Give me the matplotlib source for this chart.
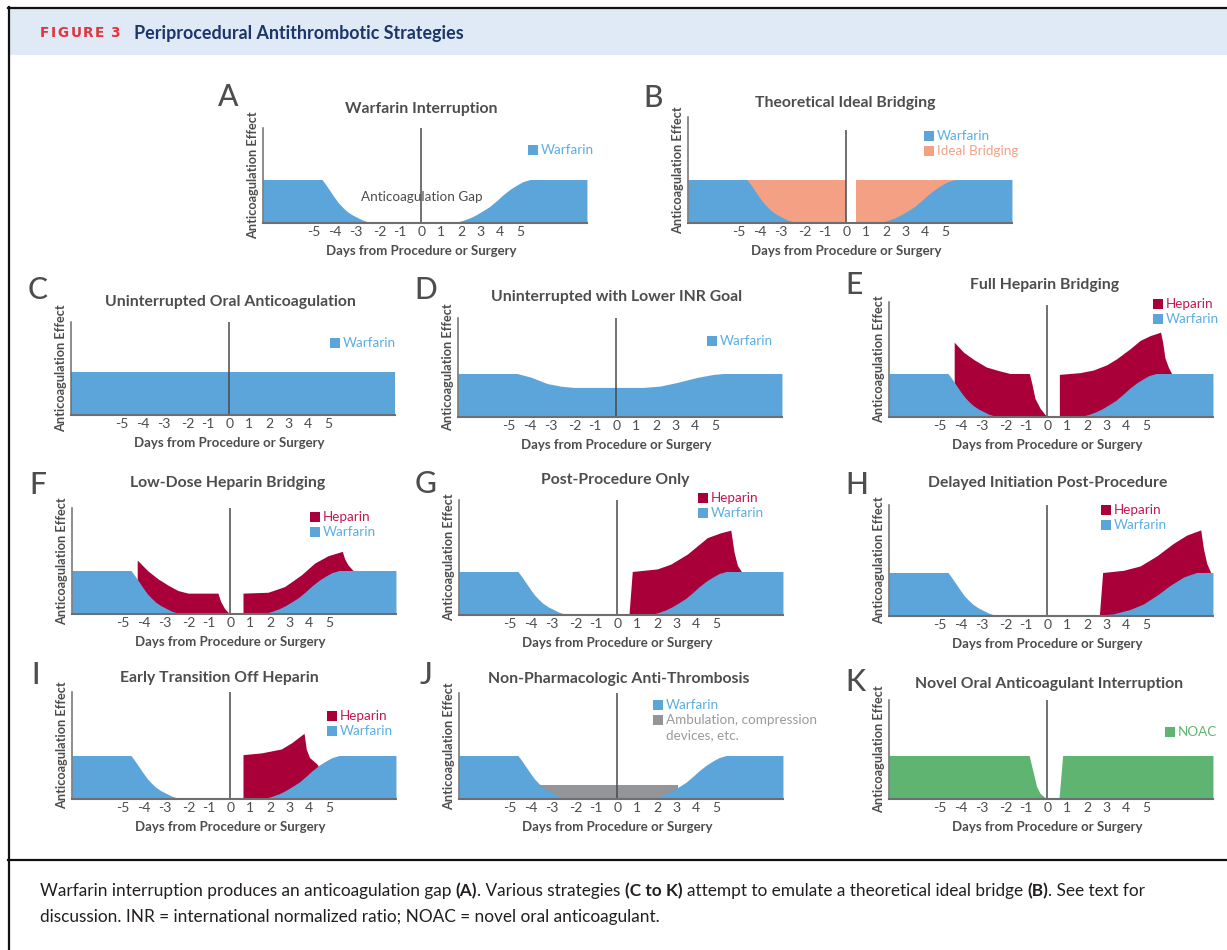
import matplotlib
matplotlib.use("Agg")
import matplotlib.pyplot as plt
from matplotlib.patches import Rectangle
from matplotlib.lines import Line2D

plt.rcParams['font.family'] = ['Lato', 'DejaVu Sans']

# ---- data (days from procedure, anticoagulation effect; 1 = therapeutic level) ----
tick_days = [-5.2, -4.2, -3.15, -2.0, -1.05, 0, 0.97, 1.93, 2.85, 3.8, 4.8]
tick_labels = ['-5', '-4', '-3', '-2', '-1', '0', '1', '2', '3', '4', '5']

warf_days = [-7.65, -4.8, -4.6, -4.4, -4.2, -4.0, -3.8, -3.6, -3.35, -3.1, -2.85, -2.6, -2.3,
             1.35, 1.7, 2.0, 2.35, 2.65, 3.0, 3.3, 3.65, 3.95, 4.3, 4.6, 4.9, 5.25, 8.0]
warf_vals = [1, 1, 0.87, 0.73, 0.59, 0.46, 0.36, 0.27, 0.19, 0.13, 0.07, 0.03, 0,
             0, 0.02, 0.06, 0.12, 0.19, 0.29, 0.38, 0.52, 0.65, 0.78, 0.87, 0.95, 1, 1]

flat_days = [-7.65, 8.0]
flat_vals = [1, 1]

low_inr_days = [-7.65, -4.8, -4.15, -3.35, -2.7, -2.05, 1.3, 2.1, 2.9, 3.9, 4.7, 5.2, 8.0]
low_inr_vals = [1, 1, 0.92, 0.77, 0.71, 0.68, 0.68, 0.71, 0.79, 0.91, 0.98, 1, 1]

ideal_left_days = [-4.8, 0]
ideal_left_vals = [1, 1]
ideal_right_days = [0.45, 5.25]
ideal_right_vals = [1, 1]

full_hep_left_days = [-4.5, -4.05, -3.55, -2.95, -2.3, -1.8, -0.87, -0.75, -0.6, -0.35, -0.1, 0]
full_hep_left_vals = [1.72, 1.49, 1.32, 1.15, 1.06, 1.0, 1.0, 0.77, 0.43, 0.2, 0.05, 0]
full_hep_right_days = [0.58, 1.58, 2.22, 2.87, 3.35, 4.0, 4.48, 4.96, 5.47, 5.57, 5.68, 5.85, 6.0]
full_hep_right_vals = [0.98, 1.02, 1.08, 1.2, 1.34, 1.57, 1.76, 1.87, 1.95, 1.72, 1.36, 1.14, 1.0]

low_hep_left_days = [-4.5, -3.98, -3.5, -3.0, -2.53, -2.05, -0.6, -0.47, -0.27, -0.03]
low_hep_left_vals = [1.24, 0.99, 0.81, 0.66, 0.54, 0.48, 0.48, 0.29, 0.12, 0]
low_hep_right_days = [0.61, 1.82, 2.62, 3.43, 4.07, 4.72, 5.41, 5.52, 5.68, 5.93]
low_hep_right_vals = [0.48, 0.5, 0.63, 0.9, 1.17, 1.34, 1.44, 1.27, 1.13, 1.0]

post_hep_days = [0.56, 0.72, 1.93, 2.58, 3.38, 4.35, 4.99, 5.48, 5.64, 5.8, 5.99]
post_hep_vals = [0, 1.0, 1.06, 1.17, 1.4, 1.78, 1.89, 1.95, 1.44, 1.14, 1.0]

delayed_warf_days = [-7.65, -4.8, -4.6, -4.4, -4.2, -4.0, -3.8, -3.6, -3.35, -3.1, -2.85, -2.6, -2.3,
                     1.2, 2.55, 3.2, 4.0, 4.65, 5.3, 5.95, 6.6, 7.2, 8.0]
delayed_warf_vals = [1, 1, 0.87, 0.73, 0.59, 0.46, 0.36, 0.27, 0.19, 0.13, 0.07, 0.03, 0,
                     0.015, 0.02, 0.05, 0.15, 0.28, 0.48, 0.71, 0.9, 1, 1]
delayed_hep_days = [2.51, 2.67, 3.67, 4.48, 5.28, 6.09, 6.73, 7.41, 7.54, 7.7, 7.89]
delayed_hep_vals = [0, 1.0, 1.05, 1.15, 1.38, 1.67, 1.86, 1.98, 1.55, 1.21, 1.0]

early_hep_days = [0.61, 1.5, 2.46, 2.95, 3.56, 3.67, 3.83, 4.15, 4.24]
early_hep_vals = [1.02, 1.06, 1.15, 1.29, 1.51, 1.14, 0.95, 0.82, 0.77]

mech_days = [-3.8, 2.95]
mech_vals = [0.33, 0.33]

noac_days = [-7.65, -0.88, -0.52, -0.35, -0.03, 0.56, 0.74, 8.0]
noac_vals = [1, 1, 0.29, 0.13, 0, 0, 1, 1]

# ---- styles ----
BLUE, BLUE_TXT = '#5ba5da', '#5aaee3'
RED, RED_TXT = '#a9003a', '#c4174f'
SALMON = '#f4a084'
GREY, GREY_TXT = '#939598', '#9a9a9c'
GREEN = '#60b472'
TXT = '#4d4d4f'
AX = '#6d6e71'

W, H = 1227, 950
LEVEL_PX = 43.5
DAY_PX = 20.7
X0 = -7.65


def fx(p):
    return p / W


def fy(p):
    return 1 - p / H


def sz(p):
    return p * 0.72


fig = plt.figure(figsize=(W / 100, H / 100), dpi=100)
fig.patch.set_facecolor('white')
renderer = fig.canvas.get_renderer()

# frame and header band
fig.add_artist(Rectangle((fx(9), fy(55)), 1 - fx(9), 47 / H, transform=fig.transFigure,
                         facecolor='#dfeaf6', lw=0, zorder=0))
for xs, ys in [([8, W], [7.5, 7.5]), ([8.5, 8.5], [7, H]), ([8, W], [860, 860])]:
    fig.add_artist(Line2D([fx(v) for v in xs], [fy(v) for v in ys], color='#111111', lw=1.6))


def put_runs(x, y, runs, size, color, track=0.0, family=None):
    fam = family or plt.rcParams['font.family']
    a = fig.text(0, 0, 'a a', fontsize=size, family=fam)
    b = fig.text(0, 0, 'aa', fontsize=size, family=fam)
    space = a.get_window_extent(renderer).width - b.get_window_extent(renderer).width
    a.remove()
    b.remove()
    for s, w, gap in runs:
        t = fig.text(fx(x), fy(y), s, fontsize=size, weight=w, color=color, va='center',
                     ha='left', family=fam)
        x += t.get_window_extent(renderer).width + (space if gap else 0) + track
    return x


def fit_runs(x, y, runs, size, color, target, track=0.0, family=None):
    n = len(fig.texts)
    end = put_runs(x, y, runs, size, color, track, family)
    for t in fig.texts[n:]:
        t.remove()
    return put_runs(x, y, runs, size * target / (end - x - track), color, track, family)


# header
fit_runs(40, 33, [(c, 'heavy', c == 'E') for c in 'FIGURE'] + [('3', 'heavy', False)],
         sz(13), '#e0353c', 81, track=1.6, family=['DejaVu Sans'])
fit_runs(134, 33, [('Periprocedural Antithrombotic Strategies', 'bold', False)],
         sz(16), '#1b3668', 327)

# panels: letter, title, axis left px, baseline px, axis top px, zero line top px,
# letter pos, title pos, layers, legend (square x, first y)
panels = [
    ('A', 'Warfarin Interruption', 263, 223, 128, 128, (228, 97), (421, 109),
     [(warf_days, warf_vals, BLUE)],
     (528, 150), [('Warfarin', BLUE, BLUE_TXT)]),
    ('B', 'Theoretical Ideal Bridging', 688, 223, 117, 130, (653, 98), (845, 103),
     [(ideal_left_days, ideal_left_vals, SALMON), (ideal_right_days, ideal_right_vals, SALMON),
      (warf_days, warf_vals, BLUE)],
     (924, 136), [('Warfarin', BLUE, BLUE_TXT), ('Ideal Bridging', SALMON, SALMON)]),
    ('C', 'Uninterrupted Oral Anticoagulation', 71, 415, 322, 322, (38, 290), (230, 302),
     [(flat_days, flat_vals, BLUE)],
     (330, 343), [('Warfarin', BLUE, BLUE_TXT)]),
    ('D', 'Uninterrupted with Lower INR Goal', 458, 417, 318, 318, (426, 290), (617, 297),
     [(low_inr_days, low_inr_vals, BLUE)],
     (707, 341), [('Warfarin', BLUE, BLUE_TXT)]),
    ('E', 'Full Heparin Bridging', 889, 417, 302, 305, (854, 285), (1045, 285),
     [(full_hep_left_days, full_hep_left_vals, RED), (full_hep_right_days, full_hep_right_vals, RED),
      (warf_days, warf_vals, BLUE)],
     (1153, 304), [('Heparin', RED, RED_TXT), ('Warfarin', BLUE, BLUE_TXT)]),
    ('F', 'Low-Dose Heparin Bridging', 72, 614, 508, 508, (38, 485), (228, 483),
     [(low_hep_left_days, low_hep_left_vals, RED), (low_hep_right_days, low_hep_right_vals, RED),
      (warf_days, warf_vals, BLUE)],
     (310, 517), [('Heparin', RED, RED_TXT), ('Warfarin', BLUE, BLUE_TXT)]),
    ('G', 'Post-Procedure Only', 459, 615, 500, 500, (426, 484), (615, 480),
     [(post_hep_days, post_hep_vals, RED), (warf_days, warf_vals, BLUE)],
     (698, 498), [('Heparin', RED, RED_TXT), ('Warfarin', BLUE, BLUE_TXT)]),
    ('H', 'Delayed Initiation Post-Procedure', 889, 616, 505, 505, (857, 485), (1048, 483),
     [(delayed_hep_days, delayed_hep_vals, RED), (delayed_warf_days, delayed_warf_vals, BLUE)],
     (1101, 510), [('Heparin', RED, RED_TXT), ('Warfarin', BLUE, BLUE_TXT)]),
    ('I', 'Early Transition Off Heparin', 72, 799, 692, 692, (36, 675), (219, 678),
     [(early_hep_days, early_hep_vals, RED), (warf_days, warf_vals, BLUE)],
     (327, 716), [('Heparin', RED, RED_TXT), ('Warfarin', BLUE, BLUE_TXT)]),
    ('J', 'Non-Pharmacologic Anti-Thrombosis', 459, 799, 693, 693, (426, 675), (619, 679),
     [(mech_days, mech_vals, GREY), (warf_days, warf_vals, BLUE)],
     (653, 705), [('Warfarin', BLUE, BLUE_TXT), ('Ambulation, compression', GREY, GREY_TXT),
                  ('devices, etc.', None, GREY_TXT)]),
    ('K', 'Novel Oral Anticoagulant Interruption', 889, 799, 700, 700, (855, 682), (1049, 684),
     [(noac_days, noac_vals, GREEN)],
     (1165, 732), [('NOAC', GREEN, GREEN)]),
]

for (letter, title, left, base, top, ztop, lpos, tpos, layers, lg_pos, lg_items) in panels:
    width = 324
    ax = fig.add_axes([fx(left), fy(base), width / W, (base - top) / H])
    ax.set_xlim(X0, X0 + width / DAY_PX)
    ax.set_ylim(0, (base - top) / LEVEL_PX)
    ax.patch.set_alpha(0)
    for days, vals, col in layers:
        ax.fill_between(days, 0, vals, color=col, lw=0, zorder=2)
    ax.plot([0, 0], [0, (base - ztop) / LEVEL_PX], color='#4a4a4c', lw=1.1, zorder=5,
            clip_on=False, solid_capstyle='butt')
    for s in ['top', 'right']:
        ax.spines[s].set_visible(False)
    ax.spines['left'].set_color(AX)
    ax.spines['left'].set_linewidth(1.1)
    ax.spines['bottom'].set_color(AX)
    ax.spines['bottom'].set_linewidth(1.5)
    ax.spines['bottom'].set_zorder(6)
    ax.set_yticks([])
    ax.set_xticks(tick_days, tick_labels)
    ax.tick_params(axis='x', length=0, pad=2.0, labelsize=sz(14), labelcolor=TXT)

    zero_px = left + (0 - X0) * DAY_PX
    fig.text(fx(zero_px), fy(base + 28), 'Days from Procedure or Surgery', fontsize=sz(13.3),
             weight='bold', color=TXT, ha='center', va='center')
    fig.text(fx(left - 10), fy((base + top) / 2), 'Anticoagulation Effect', fontsize=sz(12.8),
             weight='bold', color=TXT, ha='center', va='center', rotation=90)
    fig.text(fx(lpos[0]), fy(lpos[1]), letter, fontsize=sz(30), weight='medium',
             color='#4d4d4f', ha='center', va='center')
    fig.text(fx(tpos[0]), fy(tpos[1]), title, fontsize=sz(15.8), weight='bold', color=TXT,
             ha='center', va='center')

    sx, sy = lg_pos
    for i, (label, sq, tc) in enumerate(lg_items):
        yy = sy + i * 15
        if sq is not None:
            fig.add_artist(Rectangle((fx(sx), fy(yy + 5)), 10 / W, 10 / H,
                                     transform=fig.transFigure, facecolor=sq, lw=0))
        fig.text(fx(sx + 13), fy(yy), label, fontsize=sz(13.5), color=tc, ha='left', va='center')

    if letter == 'A':
        ax.text(0, (base - 197) / LEVEL_PX, 'Anticoagulation Gap', fontsize=sz(13.5), color=TXT,
                ha='center', va='center', zorder=4)

# caption
fit_runs(40, 891, [('Warfarin interruption produces an anticoagulation gap', 'normal', True),
                   ('(A)', 'bold', False),
                   ('. Various strategies', 'normal', True),
                   ('(C to K)', 'bold', True),
                   ('attempt to emulate a theoretical ideal bridge', 'normal', True),
                   ('(B)', 'bold', False),
                   ('. See text for', 'normal', False)], sz(15), '#231f20', 1112)
cap_size = fig.texts[-1].get_fontsize()
put_runs(40, 917, [('discussion. INR = international normalized ratio; NOAC = novel oral anticoagulant.',
                    'normal', False)], cap_size, '#231f20')

fig.savefig('out.png', dpi=100)
